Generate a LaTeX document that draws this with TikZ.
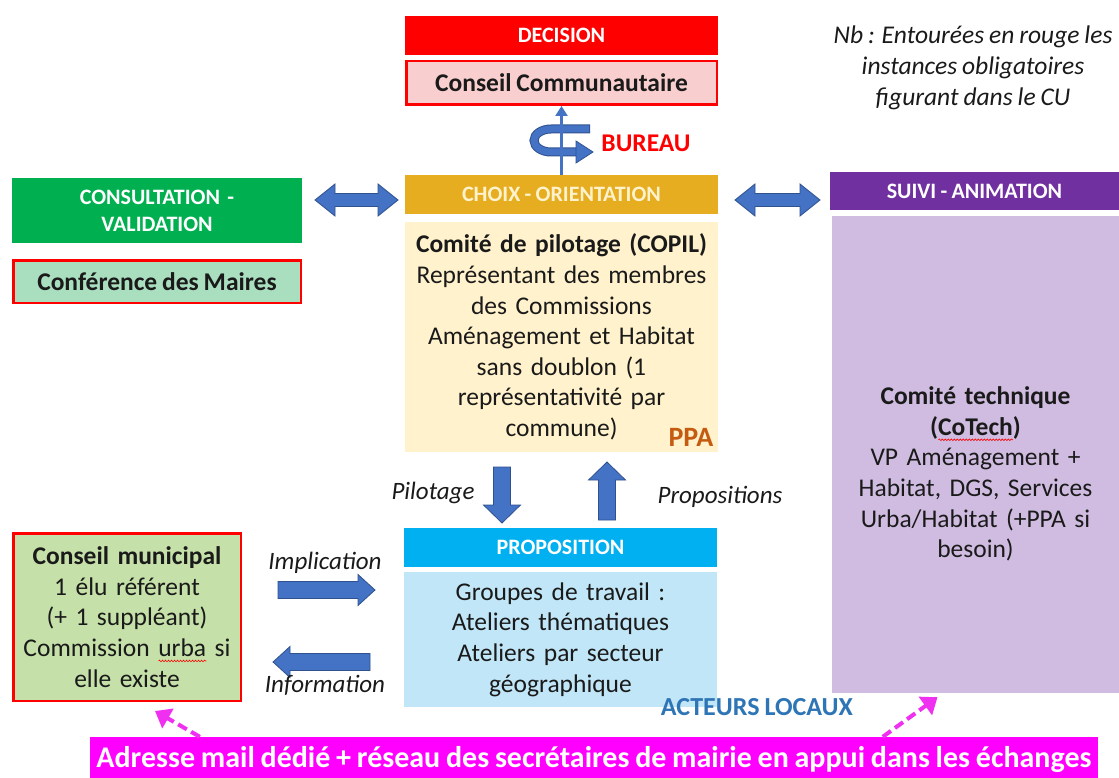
\documentclass[tikz,border=0pt]{standalone}
\usepackage{fontspec}
\setmainfont{Carlito}[WordSpace=0.85]
\usetikzlibrary{arrows.meta,decorations.pathmorphing}
\definecolor{hred}{HTML}{FF0000}
\definecolor{ccpink}{HTML}{F9CECE}
\definecolor{gold}{HTML}{E5AD1F}
\definecolor{choixtxt}{HTML}{FFF2CC}
\definecolor{copil}{HTML}{FFF2CC}
\definecolor{vgreen}{HTML}{00B050}
\definecolor{mint}{HTML}{A9DFBF}
\definecolor{vpurple}{HTML}{7030A0}
\definecolor{lilac}{HTML}{CFBCE0}
\definecolor{vcyan}{HTML}{00B0F0}
\definecolor{lblue}{HTML}{C1E6F7}
\definecolor{cmgreen}{HTML}{C5E0A8}
\definecolor{ablue}{HTML}{4472C4}
\definecolor{ablueD}{HTML}{2F528F}
\definecolor{vmag}{HTML}{FF00FF}
\definecolor{dmag}{HTML}{F030F0}
\definecolor{ppaorange}{HTML}{C55A11}
\definecolor{acteurs}{HTML}{2E75B6}
\definecolor{txt}{HTML}{1A1A1A}
\newsavebox{\sqbox}
\newcommand{\squigword}[1]{\sbox{\sqbox}{#1}\rlap{\raisebox{-4.5pt}[0pt][0pt]{\tikz[baseline=0pt]\draw[hred, line width=0.6pt, decorate, decoration={snake, amplitude=0.8pt, segment length=3pt}] (0pt,0pt) -- (\wd\sqbox,0pt);}}\usebox{\sqbox}}
\tikzset{
  hdr/.style={rectangle, inner sep=0pt, text=white, align=center,
    font=\bfseries\fontsize{22}{27}\selectfont},
  box/.style={rectangle, inner sep=0pt, text=txt, align=center,
    font=\fontsize{25.5}{30.6}\selectfont},
  must/.style={draw=hred, line width=2.5pt},
  lbl/.style={inner sep=0pt, text=txt, font=\itshape\fontsize{25}{30}\selectfont},
  arrowstyle/.style={fill=ablue, draw=ablueD, line width=0.8pt, line join=miter},
  dasharr/.style={dmag, line width=4pt, dash pattern=on 10pt off 5pt,
    -{Triangle[length=15pt,width=22pt]}},
  pics/sarrow/.style args={#1/#2/#3/#4}{code={
    \filldraw[arrowstyle] (0,#2) -- ({#1-#4},#2) -- ({#1-#4},#3) -- (#1,0)
      -- ({#1-#4},-#3) -- ({#1-#4},-#2) -- (0,-#2) -- cycle;}},
  pics/darrow/.style args={#1/#2/#3/#4}{code={
    \filldraw[arrowstyle] (0,0) -- (#4,#3) -- (#4,#2) -- ({#1-#4},#2) -- ({#1-#4},#3)
      -- (#1,0) -- ({#1-#4},-#3) -- ({#1-#4},-#2) -- (#4,-#2) -- (#4,-#3) -- cycle;}},
}
\begin{document}
\begin{tikzpicture}[x=1pt,y=-1pt]
\useasboundingbox (0,0) rectangle (1119,778);
\fill[white] (0,0) rectangle (1119,778);

% top
\node[hdr, fill=hred, minimum width=313pt, minimum height=39pt] (dec) at (561.5,35.5) {DECISION};
\node[box, must, fill=ccpink, minimum width=310.5pt, minimum height=43.5pt] (cc) at (561.5,83) {\bfseries Conseil Communautaire};

\node[lbl, align=center, font=\itshape\fontsize{25.5}{31}\selectfont] (nb) at (973,68) {Nb : Entourées en rouge les\\instances obligatoires\\figurant dans le CU};

% centre
\node[hdr, fill=gold, text=choixtxt, minimum width=313pt, minimum height=39pt] (choix) at (561.5,194.5) {CHOIX - ORIENTATION};
\node[box, fill=copil, minimum width=313pt, minimum height=230pt, text width=305pt] (copil) at (561.5,337) {\textbf{Comité de pilotage (COPIL)}\\Représentant des membres\\des Commissions\\Aménagement et Habitat\\sans doublon (1\\représentativité par\\commune)};
\node[inner sep=0pt, text=ppaorange, font=\bfseries\fontsize{28}{32}\selectfont] (ppa) at (691,437) {PPA};

% bureau curl
\draw[ablueD, line width=9pt, line cap=butt] (590,129) -- (551,129) arc[start angle=270, end angle=90, x radius=17, y radius=11.5] -- (577,152);
\draw[ablue, line width=7pt, line cap=butt] (589,129) -- (551,129) arc[start angle=270, end angle=90, x radius=17, y radius=11.5] -- (577,152);
\filldraw[fill=ablue, draw=ablueD, line width=0.8pt] (576,141) -- (593,152) -- (576,163) -- cycle;
\draw[ablue, line width=2.2pt, -{Triangle[length=10pt,width=12pt]}] (choix.north) -- (cc.south);
\node[inner sep=0pt, text=hred, font=\bfseries\fontsize{25.5}{30}\selectfont] (bureau) at (646,143) {BUREAU};

% left
\node[hdr, fill=vgreen, minimum width=290pt, minimum height=65pt, text width=280pt] (consult) at (157,210.5) {CONSULTATION -\\VALIDATION};
\node[box, must, fill=mint, minimum width=287.5pt, minimum height=42.5pt] (conf) at (157,281.5) {\bfseries Conférence des Maires};

% right
\node[hdr, fill=vpurple, minimum width=289pt, minimum height=38pt] (suivi) at (974.5,191) {SUIVI - ANIMATION};
\node[rectangle, fill=lilac, inner sep=0pt, minimum width=287pt, minimum height=477pt] (cotech) at (975.5,454.5) {};
\node[box, text width=280pt] (cotechtxt) at (975.5,474) {\textbf{Comité technique}\\\textbf{(\squigword{CoTech})}\\VP Aménagement +\\Habitat, DGS, Services\\Urba/Habitat (+PPA si\\besoin)};

% double arrows
\pic at (315,200) {darrow=83/6.5/16/20};
\pic at (735,200) {darrow=85/6.5/16/20};

% proposition
\node[hdr, fill=vcyan, minimum width=313pt, minimum height=39pt] (prop) at (560.5,547.5) {PROPOSITION};
\node[box, fill=lblue, minimum width=313pt, minimum height=135pt, text width=305pt] (gt) at (560.5,639.5) {Groupes de travail :\\Ateliers thématiques\\Ateliers par secteur\\géographique};
\node[inner sep=0pt, text=acteurs, font=\bfseries\fontsize{26}{30}\selectfont] (act) at (757,707) {ACTEURS LOCAUX};

\pic[rotate=-90] at (502,467) {sarrow=56/8.5/18.5/18};
\pic[rotate=90] at (607,520) {sarrow=58/8.5/18.5/18};
\node[lbl] (pil) at (433,493) {Pilotage};
\node[lbl] (props) at (720,497) {Propositions};

% conseil municipal
\node[box, must, fill=cmgreen, minimum width=227.5pt, minimum height=167.5pt, text width=222pt] (cm) at (127,617) {\textbf{Conseil municipal}\\1 élu référent\\(+ 1 suppléant)\\Commission \squigword{urba} si\\elle existe};
\pic at (278,590) {sarrow=97/8.5/15.5/17};
\pic[rotate=180] at (370,662) {sarrow=97/8.5/15.5/17};
\node[lbl] (impl) at (325,563) {Implication};
\node[lbl] (info) at (325,685) {Information};

% bottom
\node[rectangle, fill=vmag, inner sep=0pt, minimum width=1008pt, minimum height=46pt, text=white, font=\bfseries\fontsize{30}{34}\selectfont] (mail) at (594,760) {Adresse mail dédié + réseau des secrétaires de mairie en appui dans les échanges};
\draw[dasharr] ([xshift=110pt]mail.north west) -- ([xshift=28pt,yshift=-9pt]cm.south);
\draw[dasharr] ([xshift=793pt]mail.north west) -- ([xshift=-38pt,yshift=-4pt]cotech.south);
\end{tikzpicture}
\end{document}
